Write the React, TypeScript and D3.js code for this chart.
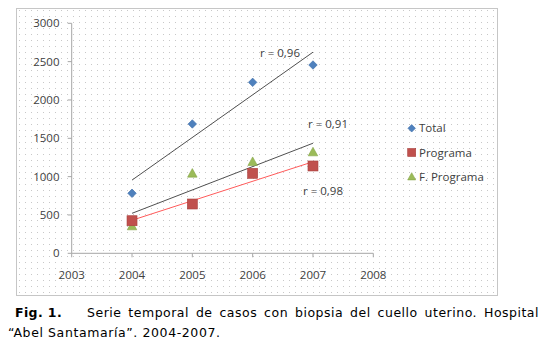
import React, { useLayoutEffect, useRef, useState } from "react";
import * as d3 from "d3";

const years = [2004, 2005, 2006, 2007];
const total = [783, 1687, 2230, 2456];
const programa = [425, 643, 1043, 1139];
const fPrograma = [356, 1043, 1195, 1321];
const xTicks = [2003, 2004, 2005, 2006, 2007, 2008];
const yTicks = [0, 500, 1000, 1500, 2000, 2500, 3000];
const legendLabels = ["Total", "Programa", "F. Programa"];
const rLabels = ["r = 0,96", "r = 0,91", "r = 0,98"];
const captionBold = "Fig. 1.";
const captionLine1 = "Serie temporal de casos con biopsia del cuello uterino. Hospital";
const captionLine2 = "\u201CAbel Santamar\u00EDa\u201D. 2004-2007.";

const BLUE = "#4F81BD";
const RED = "#C0504D";
const GREEN = "#9BBB59";

function regression(xs: number[], ys: number[]) {
  const mx = d3.mean(xs)!;
  const my = d3.mean(ys)!;
  let num = 0, den = 0;
  xs.forEach((x, i) => { num += (x - mx) * (ys[i] - my); den += (x - mx) ** 2; });
  const b = num / den;
  return (x: number) => my + b * (x - mx);
}

export default function App() {
  const x = d3.scaleLinear().domain([2003, 2008]).range([71.7, 373.3]);
  const y = d3.scaleLinear().domain([0, 3000]).range([253.3, 23.3]);
  const textRef = useRef<SVGTextElement>(null);
  const [ws, setWs] = useState(0);

  useLayoutEffect(() => {
    if (textRef.current) {
      const len = textRef.current.getComputedTextLength();
      const gaps = captionLine1.split(" ").length - 1;
      setWs((539 - 87 - len) / gaps);
    }
  }, []);

  const font = "'Open Sans', sans-serif";
  const capFont = "'DejaVu Sans', Verdana, sans-serif";
  const tc = "#404040";
  const series = [
    { data: total, color: BLUE, trend: "#505050" },
    { data: programa, color: RED, trend: "#FF5A5A" },
    { data: fPrograma, color: GREEN, trend: "#505050" },
  ];

  const marker = (i: number, cx: number, cy: number, s: number, key: string) => {
    if (i === 0) {
      const h = s / 2;
      return <path key={key} d={`M${cx},${cy - h}L${cx + h},${cy}L${cx},${cy + h}L${cx - h},${cy}Z`} fill={BLUE} stroke="#3A6BA8" strokeWidth={0.6} />;
    }
    if (i === 1) {
      return <rect key={key} x={cx - s / 2} y={cy - s / 2} width={s} height={s} fill={RED} stroke="#A8403D" strokeWidth={0.6} />;
    }
    const h = s / 2;
    return <path key={key} d={`M${cx},${cy - h}L${cx + h},${cy + h * 0.8}L${cx - h},${cy + h * 0.8}Z`} fill={GREEN} stroke="#84A447" strokeWidth={0.6} />;
  };

  return (
    <svg width={552} height={357} style={{ position: "absolute", left: 0, top: 0 }}>
      <defs>
        <pattern id="dots" x={17} y={8} width={6} height={6} patternUnits="userSpaceOnUse">
          <rect x={2} y={2} width={1} height={1} fill="#C8C8C8" />
        </pattern>
      </defs>
      <rect x={0} y={0} width={552} height={357} fill="#fff" />
      <rect x={16.5} y={8.5} width={481} height={287} fill="url(#dots)" stroke="#8C8C8C" strokeWidth={1} strokeDasharray="1 1" />

      {/* axes */}
      <line x1={x(2003)} x2={x(2003)} y1={y(3000)} y2={y(0)} stroke="#A6A6A6" strokeWidth={1} />
      <line x1={x(2003)} x2={x(2008)} y1={y(0)} y2={y(0)} stroke="#A6A6A6" strokeWidth={1} />
      {yTicks.map((t) => (
        <g key={"y" + t}>
          <line x1={x(2003) - 4} x2={x(2003)} y1={y(t)} y2={y(t)} stroke="#A6A6A6" />
          <text x={59.5} y={y(t)} dy="0.35em" textAnchor="end" fontFamily={font} fontSize={11.5} fill={tc}>{t}</text>
        </g>
      ))}
      {xTicks.map((t) => (
        <g key={"x" + t}>
          <line x1={x(t)} x2={x(t)} y1={y(0)} y2={y(0) + 4} stroke="#A6A6A6" />
          <text x={x(t)} y={275} dy="0.35em" textAnchor="middle" fontFamily={font} fontSize={11.5} fill={tc}>{t}</text>
        </g>
      ))}

      {/* trendlines */}
      {series.map((s, i) => {
        const f = regression(years, s.data);
        return <line key={"t" + i} x1={x(2004)} y1={y(f(2004))} x2={x(2007)} y2={y(f(2007))} stroke={s.trend} strokeWidth={1} />;
      })}

      {/* markers */}
      {[2, 1, 0].map((i) =>
        years.map((yr, j) => marker(i, x(yr), y(series[i].data[j]), i === 0 ? 8.5 : i === 1 ? 10 : 9.5, `m${i}-${j}`))
      )}

      {/* r labels */}
      <text x={260} y={53} dy="0.35em" fontFamily={font} fontSize={11.5} fill={tc}>{rLabels[0]}</text>
      <text x={308} y={124} dy="0.35em" fontFamily={font} fontSize={11.5} fill={tc}>{rLabels[1]}</text>
      <text x={303} y={191} dy="0.35em" fontFamily={font} fontSize={11.5} fill={tc}>{rLabels[2]}</text>

      {/* legend */}
      {legendLabels.map((l, i) => {
        const ly = 128.3 + i * 24.2;
        return (
          <g key={"l" + i}>
            {marker(i, 411.7, ly, i === 0 ? 7.5 : 8, "lm" + i)}
            <text x={419} y={ly} dy="0.35em" fontFamily={font} fontSize={11.5} fill={tc}>{l}</text>
          </g>
        );
      })}

      {/* caption */}
      <text x={15} y={317} fontFamily={capFont} fontSize={12.5} fontWeight="bold" letterSpacing={0.4} fill="#000">{captionBold}</text>
      <text ref={textRef} x={87} y={317} fontFamily={capFont} fontSize={12.5} letterSpacing={0.5} fill="#000" style={{ wordSpacing: ws + "px" }}>{captionLine1}</text>
      <text x={8} y={337} fontFamily={capFont} fontSize={12.5} letterSpacing={0.6} fill="#000">{captionLine2}</text>
    </svg>
  );
}
